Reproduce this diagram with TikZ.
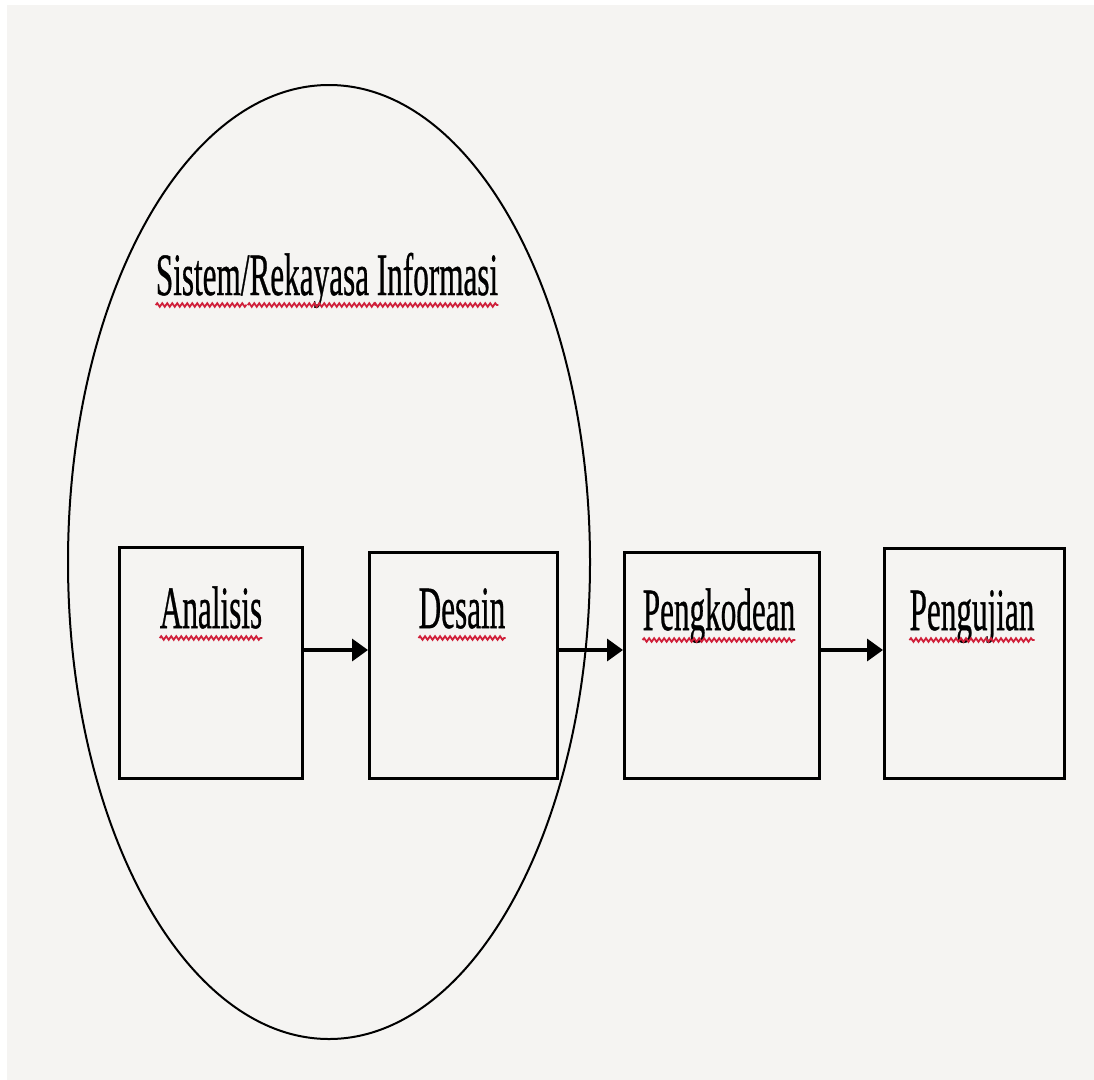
\documentclass[tikz,border=0pt]{standalone}
\usepackage{fontspec}
\setmainfont[FakeBold=0.8]{Liberation Serif}
\usetikzlibrary{decorations.pathmorphing,arrows.meta}
\definecolor{bg}{HTML}{F5F4F2}
\definecolor{spellred}{HTML}{D0203A}
\begin{document}
\begin{tikzpicture}[x=1pt,y=-1pt,
  stagebox/.style={draw=black,line width=2.5pt,rectangle,inner sep=0pt,anchor=north west},
  lbl/.style={anchor=base,inner sep=0pt,font=\fontsize{60}{60}\selectfont},
  flow/.style={line width=3.5pt,-{Triangle[length=16pt,width=22pt]}},
  spell/.style={spellred,line width=1.8pt,decorate,decoration={snake,segment length=5pt,amplitude=1.8pt}}]
\useasboundingbox (0,0) rectangle (1094,1079);
\fill[white] (0,0) rectangle (1094,1079);
\fill[bg] (7,5) rectangle (1110,1095);
\draw[line width=2pt] (329,562) ellipse [x radius=261, y radius=477];
\node[stagebox, minimum width=183pt, minimum height=231pt] (b1) at (118,546) {};
\node[stagebox, minimum width=188pt, minimum height=226pt] (b2) at (368,551) {};
\node[stagebox, minimum width=195pt, minimum height=226pt] (b3) at (623,551) {};
\node[stagebox, minimum width=180pt, minimum height=230pt] (b4) at (883,547) {};
\node[lbl] (t0) at (327,295) {\scalebox{0.52}[1]{Sistem/Rekayasa Informasi}};
\node[lbl] (t1) at (211,628) {\scalebox{0.52}[1]{Analisis}};
\node[lbl] (t2) at (462,628) {\scalebox{0.52}[1]{Desain}};
\node[lbl] (t3) at (719,630) {\scalebox{0.52}[1]{Pengkodean}};
\node[lbl] (t4) at (972,630) {\scalebox{0.52}[1]{Pengujian}};
\foreach \t in {t1,t2,t3,t4}
  \draw[spell] ([yshift=-10pt]\t.base west) -- ([yshift=-10pt]\t.base east);
\draw[spell] ([yshift=-10pt]t0.base west) -- ([yshift=-10pt,xshift=-252pt]t0.base east);
\draw[spell] ([yshift=-10pt,xshift=92pt]t0.base west) -- ([yshift=-10pt,xshift=-122pt]t0.base east);
\draw[spell] ([yshift=-10pt,xshift=218pt]t0.base west) -- ([yshift=-10pt]t0.base east);
\coordinate (ay) at (0,650);
\draw[flow] (b1.east |- ay) -- (b2.west |- ay);
\draw[flow] (b2.east |- ay) -- (b3.west |- ay);
\draw[flow] (b3.east |- ay) -- (b4.west |- ay);
\end{tikzpicture}
\end{document}
